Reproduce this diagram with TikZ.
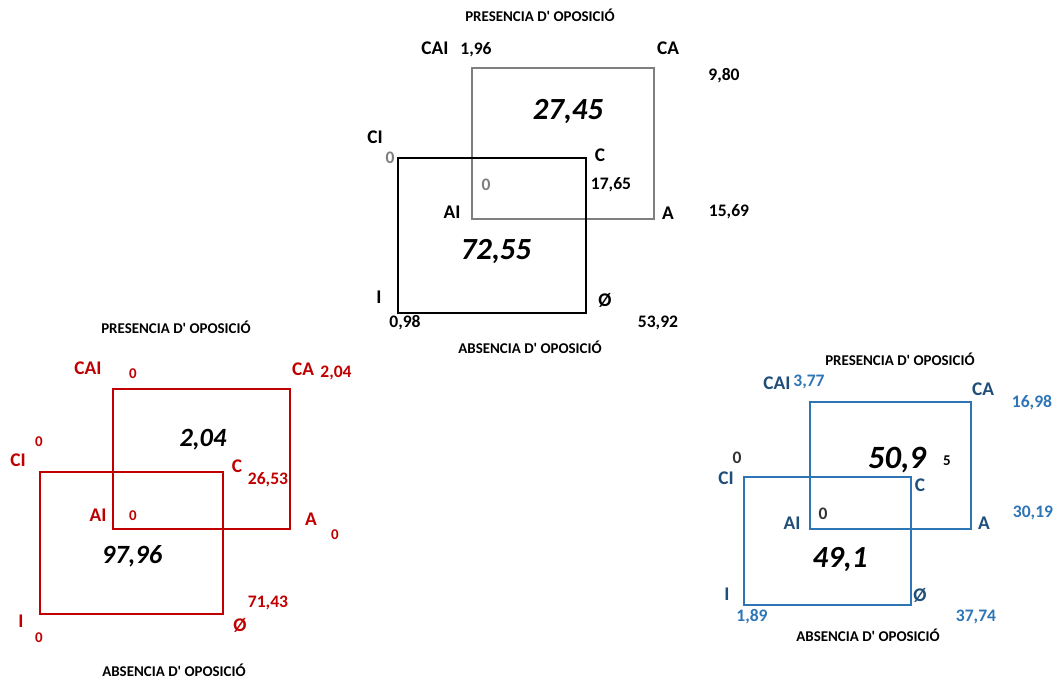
\documentclass[tikz,border=0pt]{standalone}
\usepackage{fontspec}
\setmainfont{Carlito}[Ligatures=TeXOff]
\usetikzlibrary{positioning}
\definecolor{vennGray}{RGB}{127,127,127}
\definecolor{vennRed}{RGB}{192,0,0}
\definecolor{vennBlue}{RGB}{46,117,182}
\definecolor{vennNavy}{RGB}{31,78,121}

\begin{document}
\begin{tikzpicture}[
    x=0.02cm, y=-0.02cm,
    ttl/.style={font=\fontsize{8.5}{10}\selectfont\bfseries},
    lbl/.style={font=\fontsize{11}{13}\selectfont\bfseries},
    num/.style={font=\fontsize{10}{12}\selectfont\bfseries},
    small/.style={font=\fontsize{8.5}{10}\selectfont\bfseries},
    big/.style={font=\fontsize{17.5}{20}\selectfont\bfseries\itshape},
    sq/.style={line width=0.9pt}
]
\useasboundingbox (0,0) rectangle (1059,679);

% top: black / gray
\draw[sq, vennGray] (472,68) rectangle (654,219);
\draw[sq, line width=1.2pt] (398,158) rectangle (586,313);
\node[ttl] (presT) at (540,15) {PRESENCIA D' OPOSICIÓ};
\node[ttl] (absT) at (530,347) {ABSENCIA D' OPOSICIÓ};
\node[lbl] (caiT) at (435,48) {CAI};
\node[num] (nCaiT) at (476,50) {1,96};
\node[lbl] (caT) at (668,48) {CA};
\node[num] (nCaT) at (724,76) {9,80};
\node[big] (nUpT) at (568,112) {27,45};
\node[lbl] (ciT) at (375,137) {CI};
\node[num, vennGray] (nCiT) at (390,158) {0};
\node[lbl] (cT) at (600,155) {C};
\node[num, vennGray] (nAiT) at (486,185) {0};
\node[num] (nCT) at (611,185) {17,65};
\node[lbl] (aiT) at (452,212) {AI};
\node[lbl] (aT) at (668,213) {A};
\node[num] (nAT) at (729,212) {15,69};
\node[big] (nLowT) at (496,252) {72,55};
\node[lbl] (iT) at (379,297) {I};
\node[lbl] (oT) at (605,300) {Ø};
\node[num] (nIT) at (405,323) {0,98};
\node[num] (nOT) at (658,323) {53,92};

% left: red
\begin{scope}[every node/.append style={text=vennRed}]
\draw[sq, vennRed] (113,389) rectangle (290,529);
\draw[sq, vennRed] (40,472) rectangle (223,614);
\node[ttl, black] (presL) at (176,327) {PRESENCIA D' OPOSICIÓ};
\node[ttl, black] (absL) at (174,670) {ABSENCIA D' OPOSICIÓ};
\node[lbl] (caiL) at (88,368) {CAI};
\node[small] (nCaiL) at (133,374) {0};
\node[lbl] (caL) at (303,369) {CA};
\node[num] (nCaL) at (336,373) {2,04};
\node[big, black, font=\fontsize{15}{18}\selectfont\bfseries\itshape] (nUpL) at (203,440) {2,04};
\node[small] (nCiL) at (39,442) {0};
\node[lbl] (ciL) at (18,460) {CI};
\node[lbl] (cL) at (237,466) {C};
\node[num] (nCL) at (268,480) {26,53};
\node[lbl] (aiL) at (98,515) {AI};
\node[small] (nAiL) at (133,516) {0};
\node[lbl] (aL) at (311,519) {A};
\node[small] (nAL) at (335,535) {0};
\node[big, black, font=\fontsize{15}{18}\selectfont\bfseries\itshape] (nLowL) at (132,556) {97,96};
\node[num] (nOL) at (268,603) {71,43};
\node[lbl] (iL) at (21,621) {I};
\node[lbl] (oL) at (240,625) {Ø};
\node[small] (nIL) at (39,638) {0};
\end{scope}

% right: blue
\draw[sq, vennBlue] (810,402) rectangle (971,529);
\draw[sq, vennBlue] (744,477) rectangle (911,605);
\node[ttl] (presR) at (900,359) {PRESENCIA D' OPOSICIÓ};
\node[ttl] (absR) at (868,635) {ABSENCIA D' OPOSICIÓ};
\node[lbl, vennNavy] (caiR) at (777,383) {CAI};
\node[num, vennBlue] (nCaiR) at (809,382) {3,77};
\node[lbl, vennNavy] (caR) at (983,389) {CA};
\node[num, vennBlue] (nCaR) at (1032,403) {16,98};
\node[big, font=\fontsize{18.5}{21}\selectfont\bfseries\itshape] (nUpR) at (897,460) {50,9};
\node[small] (nUpR5) at (947,461) {5};
\node[num, black!80] (nCiR) at (737,458) {0};
\node[lbl, vennNavy] (ciR) at (726,478) {CI};
\node[lbl, vennNavy] (cR) at (920,485) {C};
\node[num, black!80] (nAiR) at (823,514) {0};
\node[lbl, vennNavy] (aiR) at (792,523) {AI};
\node[lbl, vennNavy] (aR) at (984,523) {A};
\node[num, vennBlue] (nAR) at (1033,513) {30,19};
\node[big] (nLowR) at (840,560) {49,1};
\node[lbl, vennNavy] (iR) at (727,594) {I};
\node[lbl, vennNavy] (oR) at (920,595) {Ø};
\node[num, vennBlue] (nIR) at (752,617) {1,89};
\node[num, vennBlue] (nOR) at (976,617) {37,74};
\end{tikzpicture}
\end{document}
